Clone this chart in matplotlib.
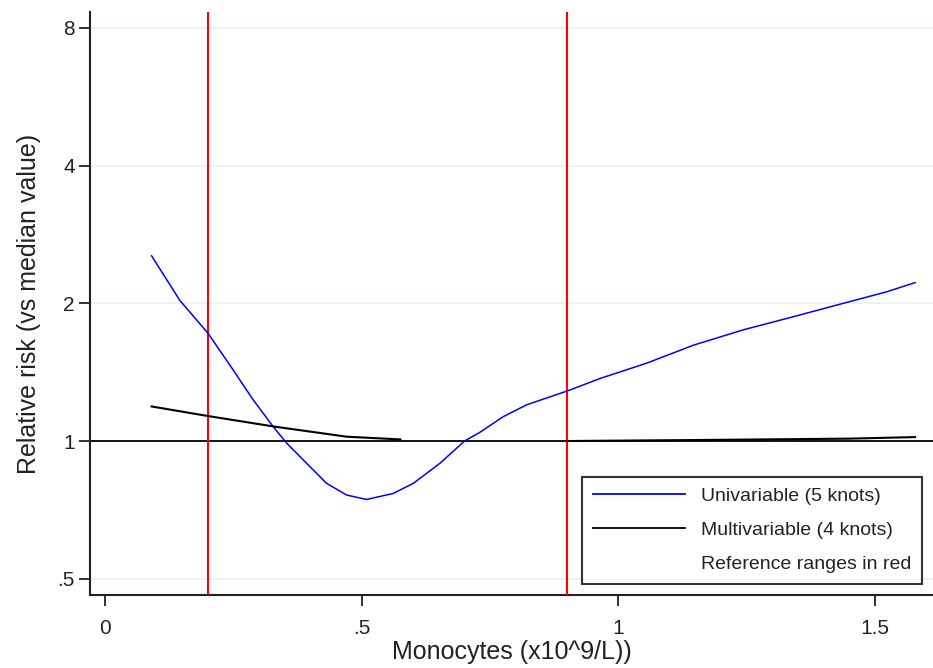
import matplotlib
matplotlib.use("Agg")
import matplotlib.pyplot as plt
import numpy as np
from matplotlib.lines import Line2D

plt.rcParams['font.family'] = ['Liberation Sans', 'DejaVu Sans']

# univariable spline (5 knots)
uni_x = [0.09, 0.145, 0.20, 0.249, 0.288, 0.327, 0.353, 0.392, 0.431, 0.47,
         0.509, 0.561, 0.60, 0.652, 0.70, 0.73, 0.775, 0.821, 0.903, 0.964,
         1.055, 1.146, 1.243, 1.341, 1.438, 1.523, 1.578]
uni_rr = [2.54, 2.03, 1.72, 1.43, 1.23, 1.075, 0.99, 0.894, 0.808, 0.762,
          0.745, 0.768, 0.808, 0.894, 1.0, 1.045, 1.13, 1.20, 1.29, 1.37,
          1.48, 1.62, 1.75, 1.87, 2.0, 2.12, 2.22]

# multivariable spline (4 knots), gap in the middle
multi_x = [0.09, 0.20, 0.33, 0.47, 0.575, np.nan, 0.90, 1.15, 1.45, 1.578]
multi_rr = [1.19, 1.134, 1.075, 1.022, 1.008, np.nan, 1.0, 1.005, 1.012, 1.02]

ref_range = [0.2, 0.9]

yticks = [0.5, 1, 2, 4, 8]
ytick_labels = ['.5', '1', '2', '4', '8']
xticks = [0, 0.5, 1, 1.5]
xtick_labels = ['0', '.5', '1', '1.5']

fig = plt.figure(figsize=(9.33, 6.68), dpi=100)
ax = fig.add_axes([0.0965, 0.1093, 0.9035, 0.8727])

ax.set_yscale('log', base=2)
ax.set_xlim(-0.03, 1.613)
ax.set_ylim(0.4606, 8.67)

for y in [0.5, 2, 4, 8]:
    ax.axhline(y, color='#eaf0f4', lw=1.2, zorder=0)
ax.axhline(1, color='black', lw=1.3, zorder=2)

for xr in ref_range:
    ax.axvline(xr, color='red', lw=1.5, zorder=3)

ax.plot(uni_x, uni_rr, color='blue', lw=1.1, zorder=4)
ax.plot(multi_x, multi_rr, color='black', lw=1.5, zorder=4)

ax.set_yticks(yticks)
ax.set_yticklabels(ytick_labels)
ax.set_xticks(xticks)
ax.set_xticklabels(xtick_labels)
ax.minorticks_off()
ax.tick_params(axis='both', labelsize=15, length=8, width=1.3, color='#222222',
               labelcolor='#222222')
ax.tick_params(axis='y', pad=3)
ax.tick_params(axis='x', pad=9)

for side in ['top', 'right']:
    ax.spines[side].set_visible(False)
for side in ['left', 'bottom']:
    ax.spines[side].set_linewidth(1.5)
    ax.spines[side].set_color('#222222')

ax.set_xlabel('Monocytes (x10^9/L))', fontsize=18, color='#222222', labelpad=2)
ax.set_ylabel('Relative risk (vs median value)', fontsize=18, color='#222222', labelpad=12)

handles = [Line2D([], [], color='blue', lw=1.3),
           Line2D([], [], color='black', lw=1.3),
           Line2D([], [], color='none')]
labels = ['Univariable (5 knots)', 'Multivariable (4 knots)', 'Reference ranges in red']
leg = ax.legend(handles, labels, loc='lower right', bbox_to_anchor=(0.987, 0.019),
                fontsize=14, frameon=True, fancybox=False, handlelength=4.75,
                handletextpad=0.8, labelspacing=0.85, borderpad=0.55,
                edgecolor='black', borderaxespad=0)
leg.get_frame().set_linewidth(1.5)
for t in leg.get_texts():
    t.set_color('#222222')

fig.savefig('out.png', dpi=100)
